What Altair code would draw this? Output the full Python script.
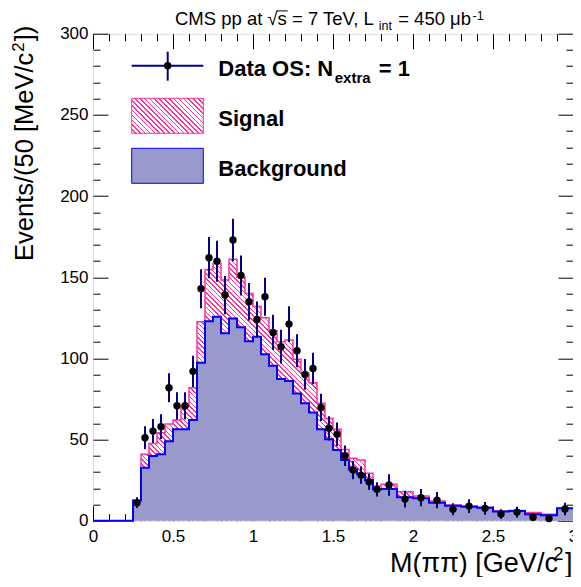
import altair as alt
import pandas as pd

# ---------------- data ----------------
# bin edges in GeV/c^2 : 50 MeV bins up to 1.8, 100 MeV bins up to 3.0
edges = [round(0.05 * i, 2) for i in range(37)] + [1.9, 2.0, 2.1, 2.2, 2.3, 2.4, 2.5, 2.6, 2.7, 2.8, 2.9, 3.0]

background = [0, 0, 0, 0, 0,
              12.5, 32.6, 39.8, 41.0, 48.9, 56.3, 56.3, 62.0, 97.3, 122.8,
              125.7, 115.4, 124.6, 119.1, 110.5, 113.3, 102.5, 95.5, 87.3, 86.0,
              78.4, 72.3, 66.7, 56.3, 50.1, 43.5, 37.4, 31.6, 28.7, 25.0, 19.3,
              19.5, 14.4, 13.8, 11.1, 9.2, 8.6, 8.0, 5.7, 6.0, 4.0, 3.3, 7.6]

signal_plus_bkg = [0, 0, 0, 0, 0,
                   12.5, 40.9, 47.6, 54.2, 59.5, 62.0, 70.2, 81.9, 122.6, 154.8,
                   158.5, 148.3, 161.0, 150.0, 140.0, 132.0, 125.0, 117.0, 110.3, 111.3,
                   99.4, 90.8, 85.0, 72.3, 63.0, 56.3, 43.9, 38.4, 37.4, 29.2, 21.4,
                   22.4, 17.9, 15.2, 12.1, 9.7, 9.0, 8.3, 6.0, 6.3, 5.1, 3.9, 7.7]

data_x = [0.275, 0.325, 0.375, 0.425, 0.475, 0.525, 0.575, 0.625, 0.675, 0.725,
          0.775, 0.825, 0.875, 0.925, 0.975, 1.025, 1.075, 1.125, 1.175, 1.225,
          1.275, 1.325, 1.375, 1.425, 1.475, 1.525, 1.575, 1.625, 1.675, 1.725,
          1.775, 1.85, 1.95, 2.05, 2.15, 2.25, 2.35, 2.45, 2.55, 2.65, 2.75, 2.85, 2.95]
data_y = [11.1, 51.1, 55.2, 57.9, 81.9, 70.8, 70.8, 92.0, 142.9, 162.0,
          159.8, 139.0, 172.9, 151.1, 134.9, 124.0, 138.0, 116.0, 107.2, 121.1,
          104.7, 90.1, 93.8, 69.8, 56.9, 53.2, 40.0, 31.2, 28.1, 24.0,
          19.3, 22.0, 13.3, 14.2, 12.7, 7.0, 9.0, 7.6, 4.1, 5.3, 2.1, 1.4, 7.2]
data_err = [3.3, 7.1, 7.4, 7.6, 9.0, 8.4, 8.4, 9.6, 12.0, 12.7,
            12.6, 11.8, 13.1, 12.3, 11.6, 11.1, 11.7, 10.8, 10.4, 11.0,
            10.2, 9.5, 9.7, 8.4, 7.5, 7.3, 6.3, 5.6, 5.3, 4.9,
            4.4, 6.6, 5.2, 5.3, 5.0, 3.7, 4.2, 3.9, 2.9, 3.3, 2.0, 1.7, 3.8]

x_major = [0, 0.5, 1, 1.5, 2, 2.5, 3]
y_major = [0, 50, 100, 150, 200, 250, 300]
x_ticks = [round(0.1 * i, 1) for i in range(31)]
y_ticks = [10 * i for i in range(31)]

# ---------------- tables ----------------
hist = pd.DataFrame({
    "edge": edges,
    "bkg": background + [background[-1]],
    "tot": signal_plus_bkg + [signal_plus_bkg[-1]],
})
pts = pd.DataFrame({"m": data_x, "n": data_y, "e": data_err})
pts["lo"] = pts["n"] - pts["e"]
pts["hi"] = pts["n"] + pts["e"]
one = pd.DataFrame({"k": [0]})

# ---------------- layout / style ----------------
PAD_L, PAD_T, PAD_B = 85, 25.7, 56.3
W, H = 480, 487
OX, OY = 8 + PAD_L, 8 + PAD_T          # page position of the plot origin
FONT = "Liberation Sans"
PINK = "#ff3399"
BLUE = "#0000ff"
FILL = "#9999cc"
NAVY = "#00008b"

# Arial / Liberation Sans advance widths (1/1000 em) for text layout
REG = {" ": 278, "(": 333, ")": 333, ",": 278, "-": 333, "/": 278, "=": 584, "[": 278, "]": 278,
       "C": 722, "E": 667, "G": 778, "L": 556, "M": 833, "S": 667, "T": 611, "V": 667,
       "a": 556, "b": 556, "c": 500, "e": 556, "i": 222, "n": 556, "p": 556, "s": 500,
       "t": 278, "v": 500, "μ": 576, "√": 549, "π": 549}
BOLD = {" ": 278, "=": 584, ":": 333, "D": 722, "N": 722, "O": 778, "S": 667,
        "a": 556, "e": 556, "r": 389, "t": 333, "x": 556}


def tw(s, size, bold=False):
    tab = BOLD if bold else REG
    return sum(tab.get(ch, 556) for ch in s) * size / 1000.0


def hatch(w, h, spacing=3.4, frac=0.32):
    q = h / w
    s = (1 + q) / (1 + q * q)
    period = w * (1 + q) / (2 ** 0.5)
    n = max(1, int(round(period / spacing)))
    stops = []
    for i in range(n):
        a = i / n
        b = (i + 1 - frac) / n
        c = (i + 1) / n
        stops += [{"offset": a, "color": "white"}, {"offset": b, "color": "white"},
                  {"offset": b, "color": PINK}, {"offset": c, "color": PINK}]
    return {"gradient": "linear", "x1": 0, "y1": 1, "x2": s, "y2": 1 - s * q, "stops": stops}


xs = alt.Scale(domain=[0, 3], nice=False, zero=False)
ys = alt.Scale(domain=[0, 300], nice=False, zero=False)

tick_cond_x = {"condition": {"test": "abs(datum.value*2 - round(datum.value*2)) < 0.001", "value": 15}, "value": 7}
tick_cond_y = {"condition": {"test": "datum.value % 50 == 0", "value": 15}, "value": 7}

ax_x_lab = alt.Axis(orient="bottom", values=x_major, ticks=False, domain=False, grid=False, title=None,
                    labelFont=FONT, labelFontSize=17, labelColor="black", labelPadding=8,
                    labelFlush=False, format="~g")
ax_x_in = alt.Axis(orient="top", offset=-H, values=x_ticks, labels=False, domain=False, grid=False,
                   title=None, tickSize=tick_cond_x, tickColor="black", tickWidth=1)
ax_x_top = alt.Axis(orient="bottom", offset=-H, values=x_ticks, labels=False, domain=False, grid=False,
                    title=None, tickSize=tick_cond_x, tickColor="black", tickWidth=1)
ax_y_lab = alt.Axis(orient="left", values=y_major, ticks=False, domain=False, grid=False, title=None,
                    labelFont=FONT, labelFontSize=17, labelColor="black", labelPadding=5,
                    labelFlush=False)
ax_y_in = alt.Axis(orient="right", offset=-W, values=y_ticks, labels=False, domain=False, grid=False,
                   title=None, tickSize=tick_cond_y, tickColor="black", tickWidth=1)
ax_y_right = alt.Axis(orient="left", offset=-W, values=y_ticks, labels=False, domain=False, grid=False,
                      title=None, tickSize=tick_cond_y, tickColor="black", tickWidth=1)

base = alt.Chart(hist)
ymax_px = max(signal_plus_bkg) / 300 * H

sig_area = base.mark_area(interpolate="step-after", fill=hatch(W, ymax_px)).encode(
    x=alt.X("edge:Q", scale=xs, axis=ax_x_lab),
    y=alt.Y("tot:Q", scale=ys, axis=ax_y_lab),
)
sig_line = base.mark_line(interpolate="step-after", color=PINK, strokeWidth=1.5).encode(
    x=alt.X("edge:Q", scale=xs, axis=ax_x_in),
    y=alt.Y("tot:Q", scale=ys, axis=ax_y_in),
)
bkg_area = base.mark_area(interpolate="step-after", color=FILL, opacity=1).encode(
    x=alt.X("edge:Q", scale=xs, axis=ax_x_top),
    y=alt.Y("bkg:Q", scale=ys, axis=ax_y_right),
)
bkg_line = base.mark_line(interpolate="step-after", color=BLUE, strokeWidth=2).encode(
    x=alt.X("edge:Q", scale=xs, axis=None),
    y=alt.Y("bkg:Q", scale=ys, axis=None),
)
err = alt.Chart(pts).mark_rule(color=NAVY, strokeWidth=2).encode(
    x=alt.X("m:Q", scale=xs, axis=None),
    y=alt.Y("lo:Q", scale=ys, axis=None),
    y2="hi:Q",
)
dots = alt.Chart(pts).mark_circle(color="black", opacity=1, size=55).encode(
    x=alt.X("m:Q", scale=xs, axis=None),
    y=alt.Y("n:Q", scale=ys, axis=None),
)


def txt(s, x, y, size, weight="normal", align="left", angle=0):
    # x, y given in page pixels; converted to plot-relative pixels
    return alt.Chart(one).mark_text(text=s, font=FONT, fontSize=size, fontWeight=weight,
                                    align=align, baseline="alphabetic", angle=angle,
                                    color="black").encode(x=alt.value(x - OX), y=alt.value(y - OY))


def rule(x1, y1, x2, y2, color, width):
    return alt.Chart(one).mark_rule(color=color, strokeWidth=width).encode(
        x=alt.value(x1 - OX), x2=alt.value(x2 - OX), y=alt.value(y1 - OY), y2=alt.value(y2 - OY))


def box(x1, y1, x2, y2, fill, stroke):
    return alt.Chart(one).mark_rect(fill=fill, stroke=stroke, strokeWidth=1).encode(
        x=alt.value(x1 - OX), x2=alt.value(x2 - OX), y=alt.value(y1 - OY), y2=alt.value(y2 - OY))


layers = []

# ---- legend ----
layers += [
    rule(131.7, 65.7, 203.3, 65.7, NAVY, 2),
    rule(167.7, 51.7, 167.7, 80.7, NAVY, 2),
    alt.Chart(one).mark_circle(color="black", opacity=1, size=55).encode(
        x=alt.value(167.7 - OX), y=alt.value(65.7 - OY)),
    box(131.7, 98.3, 203.3, 133.3, hatch(71.6, 35), PINK),
    box(131.7, 148.3, 203.3, 183.3, FILL, BLUE),
]
LX, LF = 218.3, 22
x = LX
layers.append(txt("Data OS: N", x, 76, LF, "bold"))
x += tw("Data OS: N", LF, True) + 1.5
layers.append(txt("extra", x, 82.5, 15, "bold"))
x += tw("extra", 15, True) + tw(" ", LF, True) + 2
layers.append(txt("= 1", x, 76, LF, "bold"))
layers.append(txt("Signal", LX, 126.2, LF, "bold"))
layers.append(txt("Background", LX, 176, LF, "bold"))

# ---- title: CMS pp at sqrt(s) = 7 TeV, L_int = 450 mub^-1 ----
TF, TS, TB = 18.5, 12.5, 24.5
SP = tw(" ", TF)
x = 175
layers.append(txt("CMS pp at", x, TB, TF))
x += tw("CMS pp at", TF) + 5
layers.append(txt("√", x, TB, TF))
x += tw("√", TF)
layers.append(rule(x - 0.5, TB - 13.6, x + tw("s", TF) + 1, TB - 13.6, "black", 1))
layers.append(txt("s", x, TB, TF))
x += tw("s", TF) + SP
layers.append(txt("= 7 TeV, L", x, TB, TF))
x += tw("= 7 TeV, L", TF) + 1
layers.append(txt("int", x, TB + 5, TS))
x += tw("int", TS) + 1 + SP
layers.append(txt("= 450 μb", x, TB, TF))
x += tw("= 450 μb", TF) + 1.5
layers.append(txt("-1", x, TB - 5, TS))

# ---- axis titles ----
XF = 27
XS = XF * 0.68
xr = 572.5
w_br = tw("]", XF)
w_sup = tw("2", XS)
w_main = tw("M(ππ) [GeV/c", XF)
layers.append(txt("]", xr - w_br, 572, XF))
layers.append(txt("2", xr - w_br - w_sup - 1.5, 560, XS))
layers.append(txt("M(ππ) [GeV/c", xr - w_br - w_sup - 4.5 - w_main, 572, XF))

YF = 25.5
YS = YF * 0.66
ybot, ybase = 261, 32.7
layers.append(txt("Events/(50 [MeV/c", ybase, ybot, YF, angle=270))
yy = ybot - tw("Events/(50 [MeV/c", YF) - 1
layers.append(txt("2", ybase - 9, yy, YS, angle=270))
yy -= tw("2", YS) + 1
layers.append(txt("])", ybase, yy, YF, angle=270))

chart = alt.layer(
    sig_area, sig_line, bkg_area, bkg_line, err, dots, *layers
).resolve_axis(x="independent", y="independent").properties(
    width=W, height=H,
    autosize=alt.AutoSizeParams(type="none"),
    padding={"left": PAD_L, "top": PAD_T, "right": 0, "bottom": PAD_B},
).configure_view(stroke="black", strokeWidth=1).configure(background="white")

chart.save("out.html", embed_options={"renderer": "svg", "actions": False})
